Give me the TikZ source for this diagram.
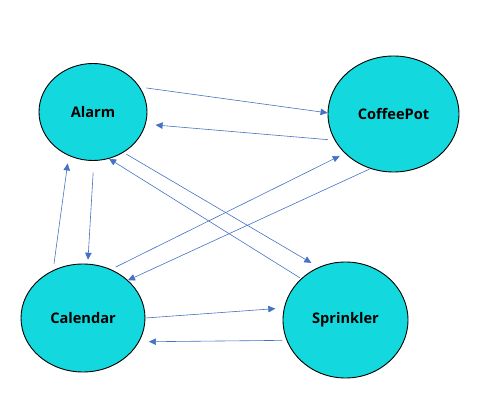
\documentclass[tikz,border=0pt]{standalone}
\usepackage{fontspec}
\setmainfont{Open Sans}
\usepackage{xcolor}
\usetikzlibrary{shapes.geometric,arrows.meta}
\definecolor{devcyan}{RGB}{19,216,221}
\definecolor{linkblue}{RGB}{68,114,196}

\begin{document}
\begin{tikzpicture}[x=1pt,y=1pt,>={Triangle[length=7pt,width=6.5pt]},
    device/.style={draw,ellipse,fill=devcyan,line width=0.9pt,inner sep=0pt,font=\fontsize{14.6}{16}\selectfont\bfseries},
    link/.style={->,draw=linkblue,line width=0.6pt}]
    \useasboundingbox (0,0) rectangle (483,418);
    \node[device,minimum width=108pt,minimum height=97pt] (alarm) at (93,306) {Alarm};
    \node[device,minimum width=131pt,minimum height=116pt] (coffee) at (393.5,304) {CoffeePot};
    \node[device,minimum width=124pt,minimum height=108pt] (calendar) at (83,100) {Calendar};
    \node[device,minimum width=125pt,minimum height=116pt] (sprinkler) at (345.5,98) {Sprinkler};
    % alarm <-> coffee pot
    \draw[link,shorten <=6.5pt] (alarm.28) -- (coffee.179);
    \draw[link,shorten <=6.7pt,shorten >=9.9pt] (coffee.204) -- (alarm.347);
    % alarm <-> calendar
    \draw[link,shorten <=11.5pt,shorten >=4pt] (alarm.271) -- (calendar.85);
    \draw[link,shorten <=6.5pt,shorten >=7.7pt] (calendar.122) -- (alarm.241);
    % alarm <-> sprinkler
    \draw[link,shorten <=3.3pt,shorten >=8.4pt] (alarm.307) -- (sprinkler.117);
    \draw[link,shorten <=1.6pt] (sprinkler.137) -- (alarm.289);
    % calendar <-> coffee pot
    \draw[link,shorten <=5.2pt,shorten >=5.7pt] (calendar.60) -- (coffee.219);
    \draw[link,shorten <=0.8pt] (coffee.247) -- (calendar.40);
    % calendar <-> sprinkler
    \draw[link,shorten >=8.6pt] (calendar.0) -- (sprinkler.169);
    \draw[link,shorten <=4pt,shorten >=9.8pt] (sprinkler.199) -- (calendar.337);
\end{tikzpicture}
\end{document}
